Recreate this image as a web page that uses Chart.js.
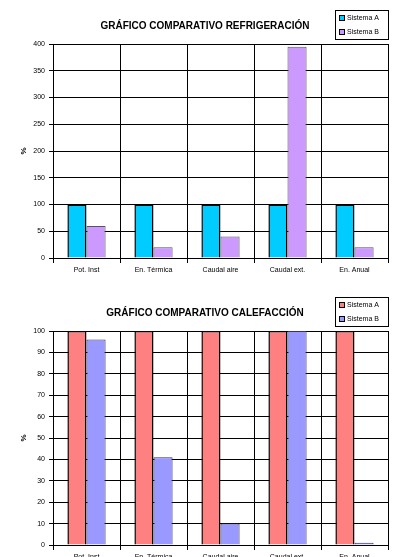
<!DOCTYPE html>
<html>
<head>
<meta charset="utf-8">
<script src="https://cdn.jsdelivr.net/npm/chart.js@4"></script>
<style>
    html, body { margin: 0; padding: 0; background: #fff; overflow: hidden; }
    canvas { position: absolute; left: 0; }
</style>
</head>
<body>
<canvas id="refrigChart" width="393" height="290" style="top:0px"></canvas>
<canvas id="calefChart" width="393" height="290" style="top:287px"></canvas>
<script>
// data
const categories = ['Pot. Inst', 'En. Térmica', 'Caudal aire', 'Caudal ext.', 'En. Anual'];
const seriesNames = ['Sistema A', 'Sistema B'];
const refrigA = [100, 100, 100, 100, 100];
const refrigB = [60, 20, 40, 395, 20];
const calefA = [100, 100, 100, 100, 100];
const calefB = [96, 41, 10, 100, 1];
const refrigTicks = [0, 50, 100, 150, 200, 250, 300, 350, 400];
const calefTicks = [0, 10, 20, 30, 40, 50, 60, 70, 80, 90, 100];

const FONT = "'Liberation Sans', Arial, sans-serif";

// title + boxed legend, drawn like the old Excel chart
const excelDecor = {
    id: 'excelDecor',
    afterDraw(chart, args, opts) {
        const ctx = chart.ctx;
        ctx.save();
        ctx.fillStyle = '#000';
        ctx.font = 'bold 10px ' + FONT;
        ctx.textAlign = 'center';
        ctx.textBaseline = 'middle';
        ctx.fillText(opts.title, 205, 26);

        // legend box
        ctx.fillStyle = '#fff';
        ctx.fillRect(335, 10, 53, 29);
        ctx.strokeStyle = '#000';
        ctx.lineWidth = 1;
        ctx.strokeRect(335.5, 10.5, 53, 29);
        ctx.font = '7px ' + FONT;
        ctx.textAlign = 'left';
        chart.data.datasets.forEach((ds, i) => {
            const y = 18 + i * 14;
            ctx.fillStyle = ds.backgroundColor;
            ctx.fillRect(339, y - 3, 6, 6);
            ctx.strokeStyle = '#000';
            ctx.strokeRect(339.5, y - 2.5, 5, 5);
            ctx.fillStyle = '#000';
            ctx.fillText(ds.label, 347, y);
        });
        ctx.restore();
    }
};

function makeChart(id, title, colors, dataA, dataB, ticks) {
    const ctx = document.getElementById(id).getContext('2d');
    return new Chart(ctx, {
        type: 'bar',
        data: {
            labels: categories,
            datasets: [{
                label: seriesNames[0],
                data: dataA,
                backgroundColor: colors[0],
                borderColor: '#000',
                borderWidth: 1.5
            }, {
                label: seriesNames[1],
                data: dataB,
                backgroundColor: colors[1],
                borderColor: colors[2],
                borderWidth: 1
            }]
        },
        options: {
            responsive: false,
            animation: false,
            layout: { padding: { top: 44, right: 5, left: 0, bottom: 0 } },
            datasets: { bar: { categoryPercentage: 0.57, barPercentage: 1 } },
            plugins: {
                legend: { display: false },
                title: { display: false },
                tooltip: { enabled: false },
                excelDecor: { title: title }
            },
            scales: {
                x: {
                    grid: { color: '#000', lineWidth: 1, tickLength: 5, offset: true },
                    border: { color: '#000' },
                    ticks: { color: '#000', font: { family: FONT, size: 7 }, padding: 3, maxRotation: 0 },
                    afterFit: (scale) => { scale.height = 32; }
                },
                y: {
                    min: ticks[0],
                    max: ticks[ticks.length - 1],
                    grid: { color: '#000', lineWidth: 1, tickLength: 4 },
                    border: { color: '#000' },
                    ticks: {
                        stepSize: ticks[1] - ticks[0],
                        color: '#000',
                        font: { family: FONT, size: 7 },
                        padding: 4
                    },
                    title: {
                        display: true,
                        text: '%',
                        color: '#000',
                        font: { family: FONT, size: 8, weight: 'bold' },
                        padding: { top: 19, bottom: 0 }
                    },
                    afterFit: (scale) => { scale.width = 53; }
                }
            }
        },
        plugins: [excelDecor]
    });
}

makeChart('refrigChart', 'GRÁFICO COMPARATIVO REFRIGERACIÓN',
    ['#00CCFF', '#CC99FF', '#555555'], refrigA, refrigB, refrigTicks);
makeChart('calefChart', 'GRÁFICO COMPARATIVO CALEFACCIÓN',
    ['#FF8080', '#9999FF', '#333366'], calefA, calefB, calefTicks);
</script>
</body>
</html>
